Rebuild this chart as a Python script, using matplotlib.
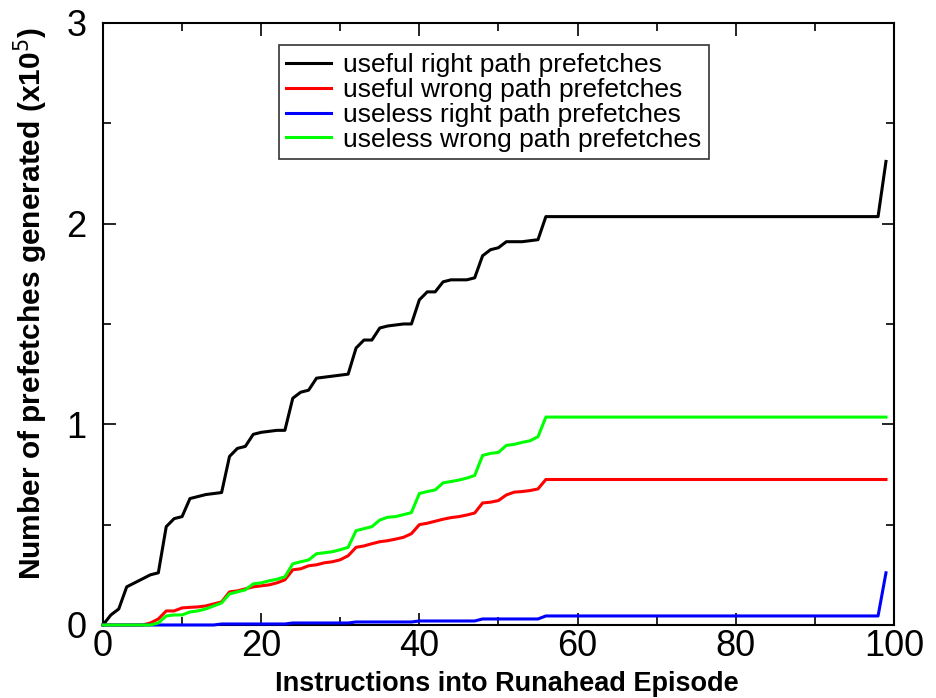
import numpy as np
import matplotlib.pyplot as plt
from matplotlib.ticker import MultipleLocator

plt.rcParams['font.family'] = ['Liberation Sans', 'DejaVu Sans']

# x = instructions into runahead episode (0..99), values in units of 1e5
x = np.arange(100)

useful_right_head = [0, 0.05, 0.08, 0.19, 0.21, 0.23, 0.25, 0.26, 0.49, 0.53,
                     0.54, 0.63, 0.64, 0.65, 0.655, 0.66, 0.84, 0.88, 0.89, 0.95,
                     0.96, 0.965, 0.97, 0.97, 1.13, 1.16, 1.17, 1.23, 1.235, 1.24,
                     1.245, 1.25, 1.38, 1.42, 1.42, 1.48, 1.49, 1.495, 1.50, 1.50,
                     1.62, 1.66, 1.66, 1.71, 1.72, 1.72, 1.72, 1.73, 1.84, 1.87,
                     1.88, 1.91, 1.91, 1.91, 1.915, 1.92, 2.035]
useful_right = useful_right_head + [2.035] * 42 + [2.31]

useful_wrong_head = [0, 0, 0, 0, 0, 0, 0.01, 0.03, 0.07, 0.07,
                     0.085, 0.088, 0.09, 0.095, 0.105, 0.115, 0.165, 0.17, 0.18, 0.19,
                     0.195, 0.2, 0.21, 0.225, 0.275, 0.28, 0.295, 0.30, 0.31, 0.315,
                     0.325, 0.345, 0.387, 0.394, 0.405, 0.415, 0.42, 0.428, 0.437, 0.455,
                     0.50, 0.507, 0.517, 0.527, 0.535, 0.54, 0.548, 0.558, 0.608, 0.612,
                     0.62, 0.648, 0.662, 0.665, 0.67, 0.678, 0.725]
useful_wrong = useful_wrong_head + [0.725] * 43

useless_right = ([0] * 15 + [0.005] * 9 + [0.01] * 8 + [0.015] * 8 +
                 [0.02] * 8 + [0.03] * 8 + [0.045] * 43 + [0.26])

useless_wrong_head = [0, 0, 0, 0, 0, 0, 0, 0.01, 0.045, 0.05,
                      0.05, 0.065, 0.07, 0.08, 0.095, 0.11, 0.155, 0.165, 0.175, 0.205,
                      0.21, 0.22, 0.228, 0.24, 0.305, 0.315, 0.324, 0.355, 0.36, 0.365,
                      0.375, 0.387, 0.47, 0.48, 0.49, 0.523, 0.537, 0.54, 0.55, 0.56,
                      0.655, 0.665, 0.673, 0.708, 0.715, 0.722, 0.732, 0.745, 0.845, 0.855,
                      0.86, 0.895, 0.90, 0.91, 0.918, 0.938, 1.036]
useless_wrong = useless_wrong_head + [1.036] * 43

fig = plt.figure(figsize=(9.36, 6.98), dpi=100)
ax = fig.add_axes([0.110, 0.1046, 0.845, 0.8625])

lw = 2.2
series = [
    (useful_right, 'black', 'useful right path prefetches'),
    (useful_wrong, '#ff0000', 'useful wrong path prefetches'),
    (useless_right, '#0000ff', 'useless right path prefetches'),
    (useless_wrong, '#00ff00', 'useless wrong path prefetches'),
]
for ys, c, lab in series:
    ax.plot(x, ys, color=c, lw=lw, label=lab, clip_on=False, zorder=3)

ax.set_xlim(0, 100)
ax.set_ylim(0, 3)
ax.xaxis.set_major_locator(MultipleLocator(20))
ax.xaxis.set_minor_locator(MultipleLocator(10))
ax.yaxis.set_major_locator(MultipleLocator(1))
ax.yaxis.set_minor_locator(MultipleLocator(0.5))
ax.tick_params(which='both', direction='in', top=True, right=True, width=1.2)
ax.tick_params(which='major', length=9, labelsize=26)
ax.tick_params(which='minor', length=6)
ax.tick_params(axis='x', pad=3)
ax.tick_params(axis='y', pad=12)
for s in ax.spines.values():
    s.set_linewidth(1.5)

ax.set_xlabel('Instructions into Runahead Episode', fontsize=19.5, fontweight='bold')
ax.set_ylabel('Number of prefetches generated (x10$^5$)', fontsize=21.5, fontweight='bold')
ax.xaxis.set_label_coords(0.511, -0.077)
ax.yaxis.set_label_coords(-0.067, 0.533)

leg = ax.legend(loc='upper left', bbox_to_anchor=(0.222, 0.963), fontsize=19,
                frameon=True, fancybox=False, edgecolor='black', handlelength=1.7,
                borderpad=0.3, labelspacing=0.03, handletextpad=0.45, borderaxespad=0)
leg.get_frame().set_linewidth(1.2)

fig.savefig('out.png', dpi=100)
